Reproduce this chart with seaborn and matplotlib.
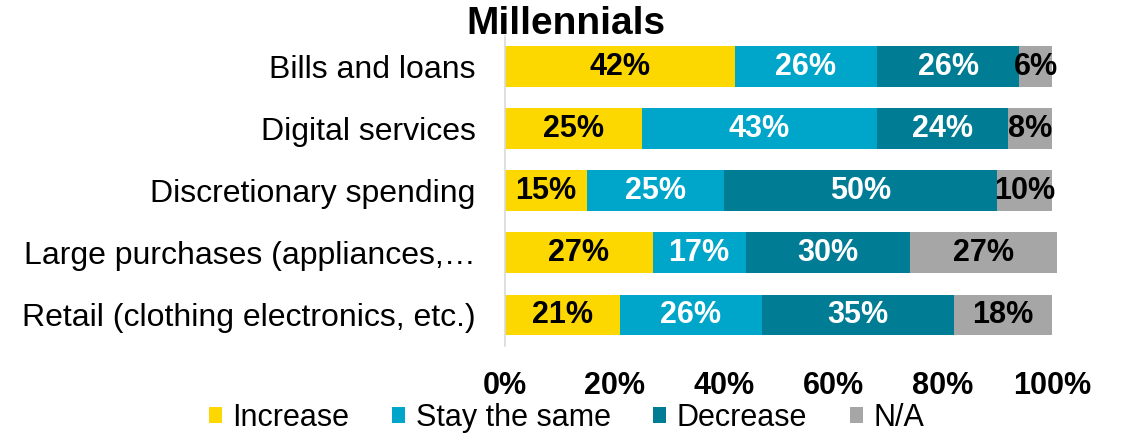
import numpy as np
import pandas as pd
import matplotlib
matplotlib.use("Agg")
import matplotlib.pyplot as plt
from matplotlib.patches import Patch
from matplotlib.ticker import FixedLocator
import seaborn as sns

categories = [
    "Bills and loans",
    "Digital services",
    "Discretionary spending",
    "Large purchases (appliances,\u2026",
    "Retail (clothing electronics, etc.)",
]
series_names = ["Increase", "Stay the same", "Decrease", "N/A"]
increase = [42, 25, 15, 27, 21]
stay_same = [26, 43, 25, 17, 26]
decrease = [26, 24, 50, 30, 35]
not_applicable = [6, 8, 10, 27, 18]
x_ticks = [0, 20, 40, 60, 80, 100]
x_tick_labels = ["0%", "20%", "40%", "60%", "80%", "100%"]

colors = ["#FDD800", "#00A6CA", "#007C94", "#A6A6A6"]
label_colors = ["black", "white", "white", "black"]

sns.set_theme(style="white")
plt.rcParams["font.family"] = ["Liberation Sans", "DejaVu Sans"]
for key in ["text.color", "axes.labelcolor", "xtick.color", "ytick.color"]:
    plt.rcParams[key] = "black"

df = pd.DataFrame(
    {
        "category": categories,
        "Increase": increase,
        "Stay the same": stay_same,
        "Decrease": decrease,
        "N/A": not_applicable,
    }
)
cum = df[series_names].cumsum(axis=1)
starts = cum - df[series_names]

fig = plt.figure(figsize=(11.22, 4.33), dpi=100)
ax = fig.add_axes([0.450, 0.201, 0.4876, 0.716])

# Stacked bars: draw cumulative totals from the last series to the first
for name, color in zip(reversed(series_names), reversed(colors)):
    sns.barplot(
        x=cum[name], y=df["category"], orient="h", color=color,
        width=0.66, ax=ax, saturation=1, linewidth=0,
    )
for p in ax.patches:
    p.set_clip_on(False)

# Value labels centred on each segment
for name, tcol in zip(series_names, label_colors):
    for i in range(len(categories)):
        v = df[name].iloc[i]
        xc = starts[name].iloc[i] + v / 2
        ax.text(xc, i, f"{v}%", ha="center", va="center", color=tcol,
                fontsize=22, fontweight="bold")

ax.set_xlim(0, 100)
ax.set_ylim(len(categories) - 0.5, -0.5)
ax.set_xticks(x_ticks)
ax.set_xticklabels(x_tick_labels, fontsize=22, fontweight="bold")
ax.tick_params(axis="x", length=0, pad=18)
ax.tick_params(axis="y", length=0, pad=21, labelsize=23)
ax.yaxis.set_minor_locator(FixedLocator(np.arange(-0.5, len(categories), 1.0)))
ax.tick_params(axis="y", which="minor", length=8, color="#D9D9D9", width=1.2, direction="out")
ax.set_xlabel("")
ax.set_ylabel("")
for s in ["top", "right", "bottom"]:
    ax.spines[s].set_visible(False)
ax.spines["left"].set_color("#D9D9D9")
ax.spines["left"].set_linewidth(1.2)

fig.text(0.504, 0.945, "Millennials", ha="center", va="center",
         fontsize=28, fontweight="bold")

handles = [Patch(facecolor=c, edgecolor="none") for c in colors]
fig.legend(handles, series_names, loc="center", bbox_to_anchor=(0.505, 0.035),
           ncol=4, frameon=False, prop={"size": 22},
           handlelength=0.42, handleheight=0.42,
           handletextpad=0.35, columnspacing=1.4, borderaxespad=0, borderpad=0.1)

fig.savefig("out.png", dpi=100)
